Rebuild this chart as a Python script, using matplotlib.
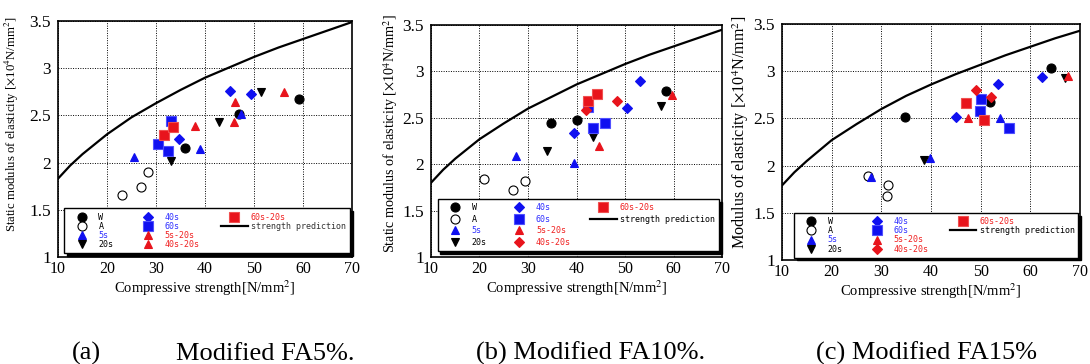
import numpy as np
import matplotlib
matplotlib.use('Agg')
import matplotlib.pyplot as plt
from matplotlib.lines import Line2D

plt.rcParams['font.family'] = ['Liberation Serif', 'DejaVu Serif']
plt.rcParams['mathtext.fontset'] = 'stix'

# ---------------- data ----------------
# compressive strength [N/mm2] and modulus of elasticity [x10^4 N/mm2]
fa5_group = ['W', 'W', 'W', 'A', 'A', 'A', '5s', '5s', '5s', '20s', '20s', '20s',
             '40s', '40s', '40s', '60s', '60s', '60s', '60s-20s', '60s-20s',
             '5s-20s', '5s-20s', '40s-20s', '40s-20s']
fa5_fc = [59.2, 36.0, 46.9, 23.0, 26.9, 28.3, 25.6, 39.0, 47.4, 33.0, 42.9, 51.5,
          34.7, 45.2, 49.3, 30.4, 33.0, 32.4, 31.7, 33.4, 38.0, 45.9, 46.2, 56.1]
fa5_E = [2.67, 2.15, 2.52, 1.66, 1.74, 1.90, 2.06, 2.14, 2.52, 2.02, 2.43, 2.75,
         2.25, 2.76, 2.73, 2.20, 2.44, 2.12, 2.29, 2.38, 2.39, 2.43, 2.64, 2.75]

fa10_group = ['W', 'W', 'W', 'A', 'A', 'A', '5s', '5s', '20s', '20s', '20s',
              '40s', '40s', '40s', '60s', '60s', '60s', '60s-20s', '60s-20s',
              '5s-20s', '5s-20s', '40s-20s', '40s-20s']
fa10_fc = [34.8, 40.1, 58.5, 20.9, 26.9, 29.3, 27.5, 39.5, 34.0, 43.4, 57.4,
           39.4, 50.4, 53.0, 43.5, 45.9, 42.4, 42.3, 44.2, 44.7, 59.7, 41.9, 48.4]
fa10_E = [2.45, 2.48, 2.79, 1.84, 1.72, 1.82, 2.09, 2.01, 2.14, 2.29, 2.63,
          2.34, 2.61, 2.90, 2.39, 2.45, 2.62, 2.68, 2.76, 2.20, 2.745, 2.59, 2.68]

fa15_group = ['W', 'W', 'W', 'A', 'A', 'A', '5s', '5s', '5s', '20s', '20s',
              '40s', '40s', '40s', '60s', '60s', '60s', '60s-20s', '60s-20s',
              '5s-20s', '5s-20s', '40s-20s', '40s-20s']
fa15_fc = [34.7, 51.9, 64.2, 27.3, 31.4, 31.2, 28.0, 39.9, 53.8, 38.6, 67.0,
           45.1, 53.5, 62.3, 50.0, 49.9, 55.8, 47.0, 50.7, 47.4, 67.5, 49.0, 52.1]
fa15_E = [2.52, 2.67, 3.03, 1.89, 1.79, 1.68, 1.88, 2.08, 2.50, 2.06, 2.93,
          2.52, 2.87, 2.94, 2.71, 2.58, 2.40, 2.66, 2.48, 2.51, 2.95, 2.80, 2.73]

# strength prediction curves
pred_fc = [10, 12.5, 15, 20, 25, 30, 35, 40, 45, 50, 55, 60, 65, 70]
fa5_pred = [1.83, 1.97, 2.09, 2.30, 2.48, 2.63, 2.77, 2.90, 3.01, 3.12, 3.22, 3.31, 3.40, 3.49]
fa10_pred = [1.80, 1.94, 2.06, 2.27, 2.44, 2.60, 2.73, 2.86, 2.97, 3.08, 3.18, 3.27, 3.36, 3.45]
fa15_pred = [1.79, 1.93, 2.05, 2.27, 2.44, 2.60, 2.74, 2.86, 2.97, 3.07, 3.17, 3.26, 3.35, 3.43]

legend_order = ['W', 'A', '5s', '20s', '40s', '60s', '5s-20s', '40s-20s', '60s-20s']

BLUE = '#1010f0'
RED = '#e8141c'
style = {
    'W':       dict(marker='o', mfc='black', mec='black', ms=6.5, tc='black'),
    'A':       dict(marker='o', mfc='white', mec='black', ms=6.5, tc='black'),
    '5s':      dict(marker='^', mfc=BLUE, mec=BLUE, ms=6, tc='#3030ff'),
    '20s':     dict(marker='v', mfc='black', mec='black', ms=6, tc='black'),
    '40s':     dict(marker='D', mfc=BLUE, mec=BLUE, ms=4.8, tc='#3030ff'),
    '60s':     dict(marker='s', mfc=BLUE, mec='#5050ff', ms=6.5, tc='#3030ff'),
    '5s-20s':  dict(marker='^', mfc=RED, mec=RED, ms=6, tc='#f02020'),
    '40s-20s': dict(marker='D', mfc=RED, mec=RED, ms=4.8, tc='#f02020'),
    '60s-20s': dict(marker='s', mfc=RED, mec='#f05050', ms=6.5, tc='#f02020'),
}

fig = plt.figure(figsize=(10.9, 3.64), dpi=100)
boxes = [[0.0532, 0.294, 0.2697, 0.648],
         [0.3954, 0.294, 0.2670, 0.637],
         [0.7174, 0.2857, 0.2734, 0.648]]
ylabels = [r'Static modulus of elasticity [$\times$10$^4$N/mm$^2$]',
           r'Static modulus of elasticity [$\times$10$^4$N/mm$^2$]',
           r'Modulus of elasticity [$\times$10$^4$N/mm$^2$]']
ylabel_size = [9.2, 10.2, 11.6]
ylabel_pos = [(-0.125, 0.565), (-0.105, 0.53), (-0.105, 0.54)]
leg_boxes = [(0.02, 0.016, 0.975), (0.023, 0.026, 0.967), (0.04, 0.01, 0.955)]
leg_spacing = [0.0, 0.3, 0.05]
leg_pad = [0.55, 0.5, 0.45]

panels = [(fa5_group, fa5_fc, fa5_E, fa5_pred),
          (fa10_group, fa10_fc, fa10_E, fa10_pred),
          (fa15_group, fa15_fc, fa15_E, fa15_pred)]

for i, (grp, fc, E, pred) in enumerate(panels):
    ax = fig.add_axes(boxes[i])
    grp = np.array(grp)
    fc = np.array(fc)
    E = np.array(E)
    handles = []
    for name in legend_order:
        st = dict(style[name])
        if i == 0 and name == '40s-20s':
            st['marker'] = '^'
            st['ms'] = 6
        sel = grp == name
        h, = ax.plot(fc[sel], E[sel], linestyle='none', marker=st['marker'],
                     mfc=st['mfc'], mec=st['mec'], ms=st['ms'], mew=0.8,
                     label=name, zorder=3)
        handles.append(h)
    pl, = ax.plot(pred_fc, pred, color='black', lw=1.6, label='strength prediction', zorder=2)
    handles.append(pl)
    # two empty slots so the legend columns split 4 / 4 / 2
    blank = [Line2D([], [], linestyle='none', label=' ') for _ in range(2)]
    handles = handles + blank
    colors = [style[n]['tc'] for n in legend_order] + ['#333333' if i == 0 else 'black', 'white', 'white']

    ax.set_xlim(10, 70)
    ax.set_ylim(1, 3.5)
    ax.set_xticks(range(10, 71, 10))
    ax.set_yticks([1, 1.5, 2, 2.5, 3, 3.5])
    ax.set_yticklabels(['1', '1.5', '2', '2.5', '3', '3.5'])
    ax.grid(True, linestyle=(0, (1, 1.5)), color='black', lw=0.7)
    ax.tick_params(direction='in', length=0)
    ax.tick_params(axis='y', pad=5, labelsize=12.5)
    ax.tick_params(axis='x', pad=3, labelsize=11.5)
    for sp in ax.spines.values():
        sp.set_linewidth(1.2)
    ax.set_xlabel('Compressive strength[N/mm$^2$]', fontsize=10.5, labelpad=1)
    ax.set_ylabel(ylabels[i], fontsize=ylabel_size[i])
    ax.yaxis.set_label_coords(*ylabel_pos[i])

    x0, y0, w = leg_boxes[i]
    leg = ax.legend(handles=handles, ncol=3, loc='lower left',
                    bbox_to_anchor=(x0, y0, w, 0.2), mode='expand',
                    prop={'family': 'DejaVu Sans Mono', 'size': 6},
                    labelcolor=colors, handlelength=3.2, handletextpad=0.4,
                    labelspacing=leg_spacing[i], borderpad=leg_pad[i], borderaxespad=0,
                    fancybox=False, framealpha=1, edgecolor='black',
                    shadow={'color': 'black', 'alpha': 1}, numpoints=1)
    leg.get_frame().set_linewidth(1.0)
    leg.set_zorder(5)

fig.text(0.079, 0.011, '(a)', fontsize=19, ha='center', va='baseline')
fig.text(0.243, 0.011, 'Modified FA5%.', fontsize=19, ha='center', va='baseline')
fig.text(0.542, 0.011, '(b) Modified FA10%.', fontsize=19, ha='center', va='baseline')
fig.text(0.850, 0.011, '(c) Modified FA15%', fontsize=19, ha='center', va='baseline')

fig.savefig('out.png', dpi=100)
